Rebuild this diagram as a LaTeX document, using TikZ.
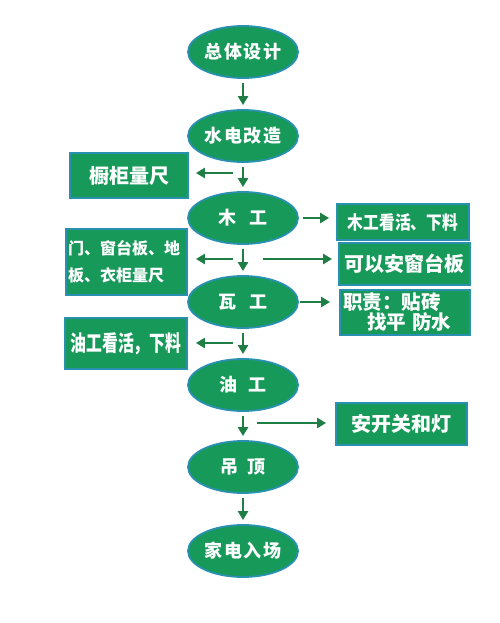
\documentclass[tikz,border=0pt]{standalone}
\usepackage{fontspec}
\newfontfamily\cjk{Noto Sans CJK SC}
\newfontfamily\cjkc{Noto Sans CJK SC}[FakeStretch=0.72]
\newfontfamily\cjkn{Noto Sans CJK SC}[FakeStretch=0.85]
\usetikzlibrary{shapes.geometric,arrows.meta}
\definecolor{leaf}{HTML}{17995A}
\definecolor{rim}{HTML}{2A90B0}
\definecolor{stem}{HTML}{1E7E44}
\newcommand{\fs}[1]{\fontsize{#1}{#1}\selectfont}
\begin{document}
\begin{tikzpicture}
[x=1pt,y=-1pt,
 every node/.style={text=white,font=\cjk\bfseries},
 stage/.style={ellipse,draw=rim,fill=leaf,line width=1.8pt,minimum width=110pt,
   minimum height=52pt,inner sep=0pt,font=\cjk\bfseries\fs{18}\addfontfeature{LetterSpace=10}},
 task/.style={rectangle,draw=rim,fill=leaf,line width=1.8pt,inner sep=3pt},
 link/.style={draw=stem,line width=2.5pt,-{Triangle[length=9pt,width=10pt]}}]
\useasboundingbox (0,0) rectangle (500,623);
% main chain
\node[stage] (design) at (243,52) {总体设计};
\node[stage] (plumb) at (243,136) {水电改造};
\node[stage] (wood) at (243,218) {木\hspace{13pt}工};
\node[stage] (tile) at (243,302) {瓦\hspace{13pt}工};
\node[stage] (paint) at (243,385) {油\hspace{11pt}工};
\node[stage] (ceil) at (243,467) {吊\hspace{10pt}顶};
\node[stage] (appl) at (243,551) {家电入场};
% side tasks
\node[task,minimum width=118pt,minimum height=45pt,font=\cjk\bfseries\fs{20}]
  (cabinet) at (129,175.5) {橱柜量尺};
\node[task,minimum width=121pt,minimum height=66pt,text width=117pt,align=left,inner sep=2pt,
  font=\cjk\bfseries\fontsize{16}{27}\selectfont]
  (gauge) at (126.5,262) {门、窗台板、地\\板、衣柜量尺};
\node[task,minimum width=122pt,minimum height=51pt,font=\cjkc\bfseries\fs{22}]
  (paintjob) at (126,343.5) {油工看活，下料};
\node[task,minimum width=132pt,minimum height=36pt,font=\cjkn\bfseries\fs{18.5}]
  (woodjob) at (403,222) {木工看活、下料};
\node[task,minimum width=131pt,minimum height=42pt,font=\cjk\bfseries\fs{20}]
  (sill) at (404.5,264) {可以安窗台板};
\node[task,minimum width=130pt,minimum height=43pt,text width=124pt,align=left,
  font=\cjk\bfseries\fontsize{19.5}{20}\selectfont]
  (duty) at (405,312.5) {职责：贴砖\\\hspace{24pt}找平 防水};
\node[task,minimum width=131pt,minimum height=42pt,font=\cjk\bfseries\fs{20}]
  (switch) at (401.5,424) {安开关和灯};
% arrows down
\foreach \a/\b in {design/plumb,plumb/wood,wood/tile,tile/paint,paint/ceil,ceil/appl}
  \draw[link,shorten <=4pt,shorten >=4pt] (\a) -- (\b);
% arrows to the side
\coordinate (l1) at (233,173);
\coordinate (l2) at (233,259);
\coordinate (l3) at (233,343);
\coordinate (r1) at (263,259);
\coordinate (r2) at (257,423);
\draw[link,shorten >=7pt] (l1) -- (l1 -| cabinet.east);
\draw[link,shorten >=8pt] (l2) -- (l2 -| gauge.east);
\draw[link,shorten >=8pt] (l3) -- (l3 -| paintjob.east);
\draw[link,shorten <=4pt,shorten >=7pt] (wood.east) -- (wood.east -| woodjob.west);
\draw[link,shorten >=6pt] (r1) -- (r1 -| sill.west);
\draw[link,shorten <=1pt,shorten >=9pt] (tile.east) -- (tile.east -| duty.west);
\draw[link,shorten >=9pt] (r2) -- (r2 -| switch.west);
\end{tikzpicture}
\end{document}
